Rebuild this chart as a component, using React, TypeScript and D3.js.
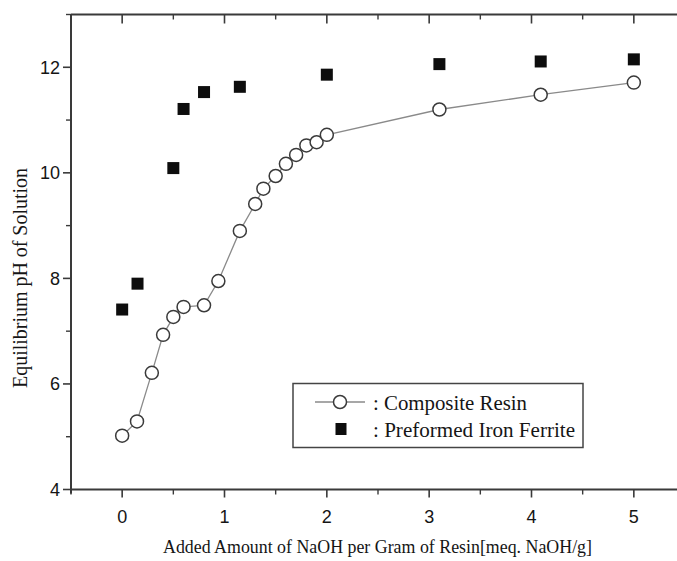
import React from "react";
import * as d3 from "d3";

const compositeX = [0, 0.145, 0.29, 0.4, 0.5, 0.6, 0.8, 0.94, 1.15, 1.3, 1.38, 1.5, 1.6, 1.7, 1.8, 1.9, 2.0, 3.1, 4.09, 5.0];
const compositeY = [5.02, 5.29, 6.21, 6.93, 7.27, 7.46, 7.49, 7.95, 8.9, 9.41, 9.7, 9.94, 10.17, 10.34, 10.52, 10.58, 10.72, 11.2, 11.48, 11.71];
const ferriteX = [0, 0.15, 0.5, 0.6, 0.8, 1.15, 2.0, 3.1, 4.09, 5.0];
const ferriteY = [7.41, 7.9, 10.09, 11.21, 11.53, 11.63, 11.86, 12.06, 12.11, 12.15];
const xMajorTicks = [0, 1, 2, 3, 4, 5];
const xMinorTicks = [-0.5, 0.5, 1.5, 2.5, 3.5, 4.5, 5.5];
const yMajorTicks = [4, 6, 8, 10, 12];
const yMinorTicks = [5, 7, 9, 11, 13];
const xTitle = "Added Amount of NaOH per Gram of Resin[meq. NaOH/g]";
const yTitle = "Equilibrium pH of Solution";
const legendLabels = [": Composite Resin", ": Preformed Iron Ferrite"];

export default function App() {
  const W = 677, H = 561;
  const L = 71, R = 685, T = 14.5, B = 489.5;
  const x = d3.scaleLinear().domain([-0.5, 5.5]).range([L, R]);
  const y = d3.scaleLinear().domain([4, 13]).range([B, T]);
  const axisColor = "#3a3a3a";
  const line = d3.line<number>().x((_, i) => x(compositeX[i])).y((d) => y(d));
  const sans = "Liberation Sans";
  const serif = "Liberation Serif";
  const sq = 12;
  const textColor = "#151515";

  return (
    <svg width={W} height={H} style={{ position: "absolute", left: 0, top: 0, background: "#fff" }}>
      <rect x={0} y={0} width={W} height={H} fill="#fff" />
      {/* frame */}
      <line x1={L} x2={R} y1={T} y2={T} stroke={axisColor} strokeWidth={2} />
      <line x1={L} x2={R} y1={B} y2={B} stroke={axisColor} strokeWidth={2} />
      <line x1={L} x2={L} y1={T} y2={B + 4} stroke={axisColor} strokeWidth={2} />
      <line x1={R} x2={R} y1={T} y2={B} stroke={axisColor} strokeWidth={2} />

      {/* x ticks */}
      {xMajorTicks.map((t) => (
        <g key={"xm" + t}>
          <line x1={x(t)} x2={x(t)} y1={B} y2={B + 8} stroke={axisColor} strokeWidth={1.6} />
          <line x1={x(t)} x2={x(t)} y1={T} y2={T + 9} stroke={axisColor} strokeWidth={1.6} />
          <text x={x(t)} y={B + 33} textAnchor="middle" style={{ fontFamily: sans }} fontSize={18} fill={textColor}>{t}</text>
        </g>
      ))}
      {xMinorTicks.map((t) => (
        <g key={"xn" + t}>
          <line x1={x(t)} x2={x(t)} y1={B} y2={B + 5} stroke={axisColor} strokeWidth={1.4} />
          <line x1={x(t)} x2={x(t)} y1={T} y2={T + 5} stroke={axisColor} strokeWidth={1.4} />
        </g>
      ))}

      {/* y ticks */}
      {yMajorTicks.map((t) => (
        <g key={"ym" + t}>
          <line x1={L - 8} x2={L} y1={y(t)} y2={y(t)} stroke={axisColor} strokeWidth={1.6} />
          <line x1={R - 8} x2={R} y1={y(t)} y2={y(t)} stroke={axisColor} strokeWidth={1.6} />
          <text x={L - 11} y={y(t)} dy="0.36em" textAnchor="end" style={{ fontFamily: sans }} fontSize={18} fill={textColor}>{t}</text>
        </g>
      ))}
      {yMinorTicks.map((t) => (
        <g key={"yn" + t}>
          <line x1={L - 5} x2={L} y1={y(t)} y2={y(t)} stroke={axisColor} strokeWidth={1.4} />
          <line x1={R - 5} x2={R} y1={y(t)} y2={y(t)} stroke={axisColor} strokeWidth={1.4} />
        </g>
      ))}

      {/* composite line */}
      <path d={line(compositeY) || ""} fill="none" stroke="#8a8a8a" strokeWidth={1.3} />
      {compositeY.map((v, i) => (
        <circle key={"c" + i} cx={x(compositeX[i])} cy={y(v)} r={6.5} fill="#fff" stroke="#3a3a3a" strokeWidth={1.5} />
      ))}
      {ferriteY.map((v, i) => (
        <rect key={"f" + i} x={x(ferriteX[i]) - sq / 2} y={y(v) - sq / 2} width={sq} height={sq} fill="#0d0d0d" />
      ))}

      {/* legend */}
      <rect x={293} y={383.5} width={290} height={64} fill="#fff" stroke="#444" strokeWidth={1.5} />
      <line x1={315} x2={365} y1={402} y2={402} stroke="#8a8a8a" strokeWidth={1.3} />
      <circle cx={340} cy={402} r={6.5} fill="#fff" stroke="#3a3a3a" strokeWidth={1.5} />
      <rect x={341 - 5.5} y={429 - 6} width={11} height={12} fill="#0d0d0d" />
      <text x={373} y={410} style={{ fontFamily: serif }} fontSize={22} fill={textColor} textLength={154} lengthAdjust="spacingAndGlyphs">{legendLabels[0]}</text>
      <text x={373} y={437} style={{ fontFamily: serif }} fontSize={22} fill={textColor} textLength={202} lengthAdjust="spacingAndGlyphs">{legendLabels[1]}</text>

      {/* titles */}
      <text x={163} y={553} style={{ fontFamily: serif }} fontSize={19} fill={textColor} textLength={429} lengthAdjust="spacingAndGlyphs">{xTitle}</text>
      <text transform={`translate(27, 278) rotate(-90)`} textAnchor="middle" style={{ fontFamily: serif }} fontSize={20} fill={textColor} textLength={220} lengthAdjust="spacingAndGlyphs">{yTitle}</text>
    </svg>
  );
}
